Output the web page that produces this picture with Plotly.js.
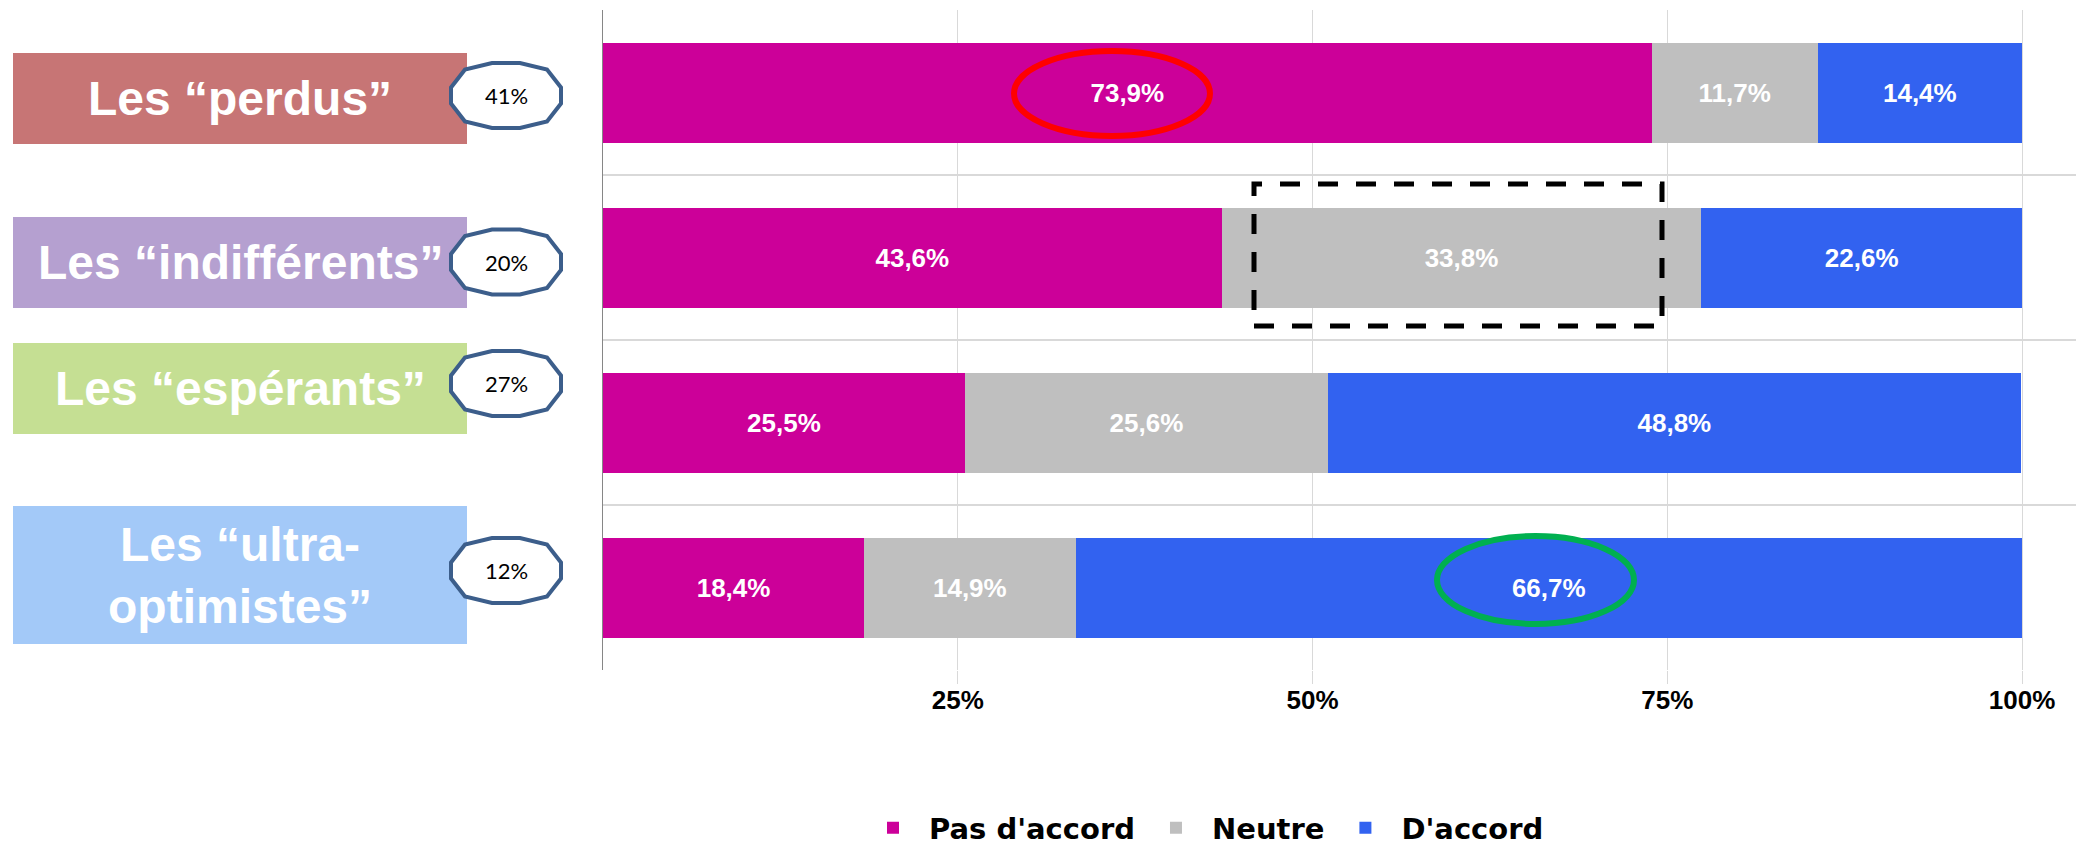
<!DOCTYPE html>
<html>
<head>
<meta charset="utf-8">
<script src="https://cdn.plot.ly/plotly-3.0.1.min.js"></script>
<style>html,body{margin:0;padding:0;background:#fff;}#chart{width:2076px;height:848px;}</style>
</head>
<body>
<div id="chart"></div>
<script>
// ---- Data ----
const categories = ['Les “perdus”', 'Les “indifférents”', 'Les “espérants”', 'Les “ultra-optimistes”'];
const categoryLabels = ['Les “perdus”', 'Les “indifférents”', 'Les “espérants”', 'Les “ultra-<br>optimistes”'];
const groupShares = ['41%', '20%', '27%', '12%'];
const pasDaccord = [73.9, 43.6, 25.5, 18.4];
const neutre = [11.7, 33.8, 25.6, 14.9];
const dAccord = [14.4, 22.6, 48.8, 66.7];
const seriesNames = ["Pas d'accord", 'Neutre', "D'accord"];
const tickValues = [25, 50, 75, 100];
const tickLabels = ['25%', '50%', '75%', '100%'];

// ---- Styling ----
const colors = ['#CC0099', '#BFBFBF', '#3262F0'];
const boxColors = ['#C77575', '#B5A0D0', '#C5DF93', '#A3C9F8'];
const W = 2076, H = 848, ML = 603, MT = 10, MB = 178;
const plotW = W - ML, plotH = H - MT - MB;
const px = x => (x - ML) / plotW;
const py = y => (H - MB - y) / plotH;

const boldFont = 'Liberation Sans, Arial, sans-serif';

const traces = [pasDaccord, neutre, dAccord].map((vals, i) => ({
  type: 'bar',
  orientation: 'h',
  name: seriesNames[i],
  y: categories,
  x: vals,
  marker: {color: colors[i]},
  texttemplate: '%{x:.1f}%',
  textposition: 'inside',
  insidetextanchor: 'middle',
  constraintext: 'none',
  textfont: {family: boldFont, size: 26, color: '#FFFFFF', weight: 'bold'},
  hoverinfo: 'skip'
}));

// left label boxes (pixel rows)
const boxRows = [[53, 144], [217, 308], [343, 434], [506, 644]];
const octCenters = [95.5, 262, 383.5, 570.5];
const octX = 506;
const octPts = [[-14,-32.5],[14,-32.5],[41,-26],[55,-8],[55,8],[41,26],[14,32.5],[-14,32.5],[-41,26],[-55,8],[-55,-8],[-41,-26]];
const octPath = 'M' + octPts.map(p => p[0] + ',' + p[1]).join('L') + 'Z';

const shapes = [];
const annotations = [];

// category separators
for (let i = 0; i < categories.length - 1; i++) {
  shapes.push({type: 'line', xref: 'paper', yref: 'y', x0: 0, x1: 1, y0: i + 0.5, y1: i + 0.5,
    line: {color: '#D9D9D9', width: 2}, layer: 'below'});
}

categories.forEach((c, i) => {
  const [t, b] = boxRows[i];
  shapes.push({type: 'rect', xref: 'paper', yref: 'paper', x0: px(13), x1: px(467), y0: py(b), y1: py(t),
    fillcolor: boxColors[i], line: {width: 0}, layer: 'above'});
  annotations.push({xref: 'paper', yref: 'paper', x: px(240), y: py((t + b) / 2), text: categoryLabels[i],
    showarrow: false, xanchor: 'center', yanchor: 'middle',
    font: {family: boldFont, size: 48, color: '#FFFFFF', weight: 'bold'}});
});

categories.forEach((c, i) => {
  shapes.push({type: 'path', xref: 'paper', yref: 'paper', xsizemode: 'pixel', ysizemode: 'pixel',
    xanchor: px(octX), yanchor: py(octCenters[i]), path: octPath,
    fillcolor: '#FFFFFF', line: {color: '#3C5E8B', width: 4}, layer: 'above'});
  annotations.push({xref: 'paper', yref: 'paper', x: px(octX), y: py(octCenters[i]), text: groupShares[i],
    showarrow: false, xanchor: 'center', yanchor: 'middle',
    font: {family: 'Lato, Carlito, sans-serif', size: 22, color: '#000000'}});
});

// highlight ellipses and dashed box
shapes.push({type: 'circle', xref: 'paper', yref: 'paper', x0: px(1014), x1: px(1210), y0: py(136), y1: py(51),
  line: {color: '#FF0000', width: 6}, layer: 'above'});
shapes.push({type: 'circle', xref: 'paper', yref: 'paper', x0: px(1437), x1: px(1634), y0: py(624), y1: py(536),
  line: {color: '#00B050', width: 6}, layer: 'above'});
shapes.push({type: 'rect', xref: 'paper', yref: 'paper', x0: px(1254), x1: px(1662), y0: py(326), y1: py(184),
  line: {color: '#000000', width: 5, dash: '20px,18px'}, layer: 'above'});

const layout = {
  width: W, height: H,
  margin: {l: ML, r: 0, t: MT, b: MB, pad: 0, autoexpand: false},
  paper_bgcolor: '#FFFFFF', plot_bgcolor: '#FFFFFF',
  barmode: 'stack',
  bargap: 0.394,
  separators: ', ',
  showlegend: true,
  legend: {orientation: 'h', x: px(857), xanchor: 'left', y: py(828), yanchor: 'middle',
    itemwidth: 62,
    font: {family: 'DejaVu Sans, sans-serif', size: 29, color: '#000000', weight: 'bold'},
    traceorder: 'normal'},
  xaxis: {range: [0, 100 * plotW / 1419], tickmode: 'array', tickvals: tickValues, ticktext: tickLabels,
    showgrid: true, gridcolor: '#D9D9D9', gridwidth: 1, zeroline: false, showline: false,
    ticks: 'outside', ticklen: 13, tickcolor: '#D9D9D9', tickwidth: 1, ticklabelstandoff: -6,
    tickfont: {family: boldFont, size: 26, color: '#000000', weight: 'bold'}, fixedrange: true},
  yaxis: {type: 'category', categoryorder: 'array', categoryarray: categories,
    range: [categories.length - 0.5, -0.5], showticklabels: false, showgrid: false,
    zeroline: false, showline: true, linecolor: '#868686', linewidth: 1.5, ticks: '', fixedrange: true},
  shapes: shapes,
  annotations: annotations
};

Plotly.newPlot('chart', traces, layout, {displayModeBar: false, staticPlot: true});
</script>
</body>
</html>
